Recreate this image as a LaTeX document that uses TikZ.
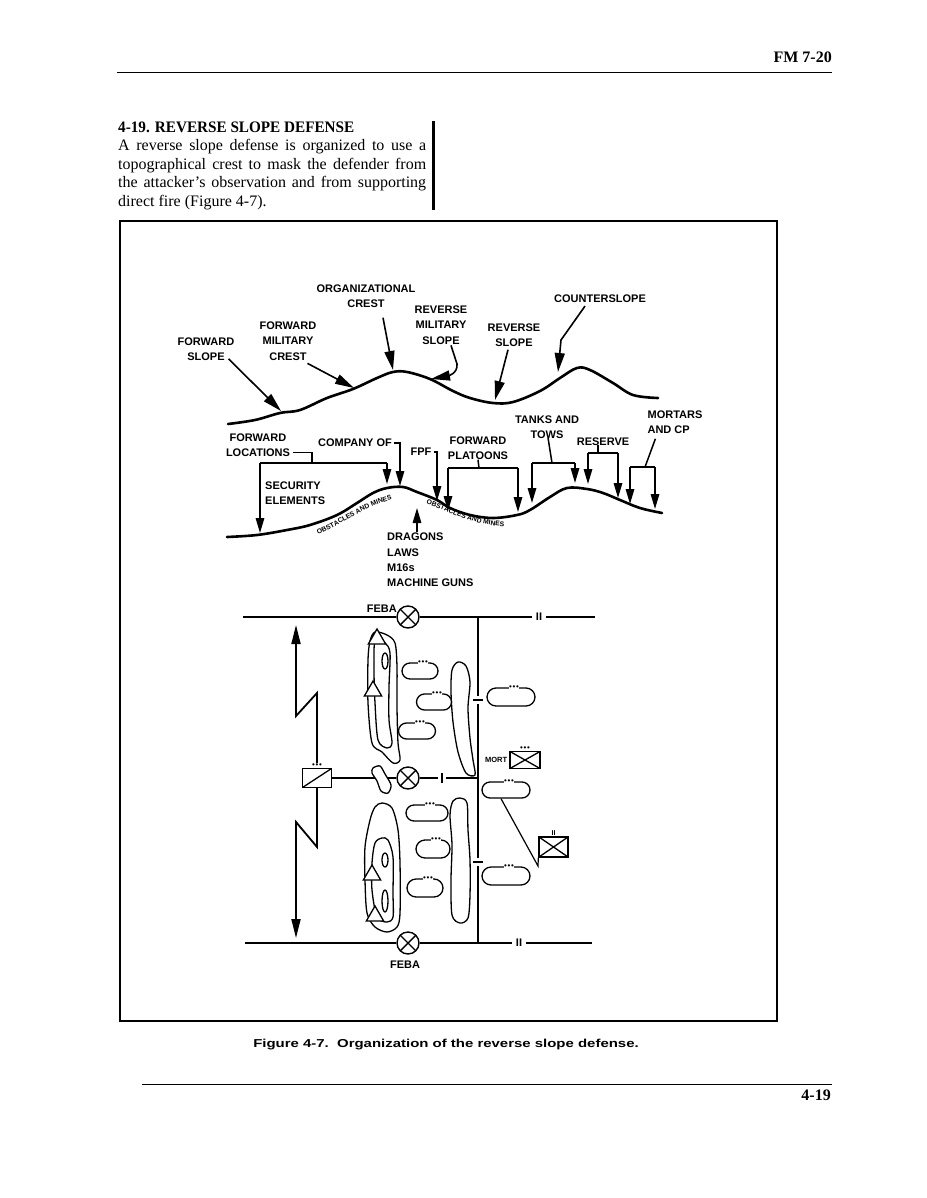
\documentclass[tikz,border=0pt]{standalone}
\usepackage{fontspec}
\setmainfont{Liberation Serif}
\setsansfont{Liberation Sans}
\newfontfamily\headfont{Liberation Serif}[FakeStretch=0.95]
\newfontfamily\capfont{Liberation Sans}[FakeStretch=1.3]
\usepackage{tikz}
\usetikzlibrary{arrows.meta,positioning,calc,shapes.misc,shapes.geometric,decorations.text}

\newcommand{\lblfont}{\fontsize{11}{15.3}\selectfont\sffamily\bfseries}
\newcommand{\obsfont}{\fontsize{6.8}{8}\selectfont\sffamily\bfseries}
\newcommand{\bodyfont}{\fontsize{16}{18.5}\selectfont}
\newcommand{\tridots}{\textbullet\kern0.6pt\textbullet\kern0.6pt\textbullet}

\tikzset{
  lbl/.style={font=\lblfont, align=center, inner sep=0pt},
  ground/.style={line width=2.6pt, line cap=round, line join=round},
  bigpointer/.style={line width=1.6pt, -{Triangle[length=19pt,width=10pt]}},
  pointer/.style={line width=1.5pt, -{Triangle[length=15pt,width=8.5pt]}},
  brace/.style={line width=1.5pt},
  plan/.style={line width=1.8pt},
  planhead/.style={plan, -{Triangle[length=19pt,width=9pt]}},
  contour/.style={line width=1.3pt, line join=round},
  feba/.style={circle, draw, line width=1.4pt, minimum size=22pt, inner sep=0pt,
    path picture={\draw[line width=1.4pt]
      (path picture bounding box.south west) -- (path picture bounding box.north east)
      (path picture bounding box.north west) -- (path picture bounding box.south east);}},
  unitbox/.style={rectangle, draw, line width=1.4pt, inner sep=0pt, minimum width=29pt, minimum height=19pt},
  crossbox/.style={unitbox, path picture={\draw[line width=1.3pt]
      (path picture bounding box.south west) -- (path picture bounding box.north east)
      (path picture bounding box.north west) -- (path picture bounding box.south east);}},
  scoutbox/.style={unitbox, path picture={\draw[line width=1.3pt]
      (path picture bounding box.south west) -- (path picture bounding box.north east);}},
  dotlbl/.style={font=\fontsize{8}{8}\selectfont\sffamily, inner sep=0.4pt},
  pltpos/.style={rounded rectangle, draw, line width=1.3pt, inner sep=0pt, fill=white,
    minimum width=#1, minimum height=16pt,
    label={[dotlbl, fill=white, anchor=center, xshift=3pt, yshift=-0.5pt]north:\tridots}},
  optri/.style={regular polygon, regular polygon sides=3, draw, fill=white, line width=1.3pt,
    minimum size=20pt, inner sep=0pt},
  hbar/.style={minimum width=10pt, minimum height=8pt, inner sep=0pt},
  vbar/.style={minimum width=8pt, minimum height=10pt, inner sep=0pt},
  bnd/.style={font=\lblfont, fill=white, inner xsep=4pt, inner ysep=0pt},
  obstext/.style={decorate, decoration={text along path, text={|\obsfont|OBSTACLES AND MINES}, text align=center}}
}

\begin{document}
\begin{tikzpicture}[x=1pt,y=-1pt]
  \useasboundingbox (0,0) rectangle (926,1198);

  % page
  \node (hdr) [anchor=base east, font=\fontsize{16}{18}\selectfont\bfseries, inner sep=0pt] at (832,63) {FM 7-20};
  \coordinate (rtl) at (117,72); \coordinate (rtr) at (832,72);
  \draw [line width=0.9pt] (rtl) -- (rtr);
  \node (ttl) [anchor=base west, font=\fontsize{16}{18}\headfont\bfseries, inner sep=0pt] at (118,133) {4-19. REVERSE SLOPE DEFENSE};
  \node (body1) [anchor=base west, font=\bodyfont, inner sep=0pt] at (118,151) {\makebox[308pt][s]{A reverse slope defense is organized to use a}};
  \node (body2) [anchor=base west, font=\bodyfont, inner sep=0pt] at (118,169.5) {\makebox[308pt][s]{topographical crest to mask the defender from}};
  \node (body3) [anchor=base west, font=\bodyfont, inner sep=0pt] at (118,188) {\makebox[308pt][s]{the attacker’s observation and from supporting}};
  \node (body4) [anchor=base west, font=\bodyfont, inner sep=0pt] at (118,206.5) {direct fire (Figure 4-7).};
  \coordinate (barT) at (433.5,121); \coordinate (barB) at (433.5,210);
  \draw [line width=2.8pt] (barT) -- (barB);
  \coordinate (frNW) at (120,221); \coordinate (frSE) at (777,1021);
  \draw [line width=1.3pt] (frNW) rectangle (frSE);
  \node (cap) [anchor=base, font={\capfont\fontsize{11.5}{14}\selectfont\bfseries}, inner sep=0pt] at (446,1047) {Figure 4-7.\ \ Organization of the reverse slope defense.};
  \coordinate (rbl) at (142,1084); \coordinate (rbr) at (832,1084);
  \draw [line width=0.9pt] (rbl) -- (rbr);
  \node (pgno) [anchor=base east, font=\fontsize{16}{18}\selectfont\bfseries, inner sep=0pt] at (831,1100) {4-19};

  % profile of the slopes
  \draw [ground] plot [smooth, tension=0.6] coordinates {(228,424) (255,420) (280,413) (300,410) (327,398) (353,389) (377,378) (393,372) (407,372) (430,379) (453,391) (470,398) (493,403) (513,402) (540,391) (560,378) (577,368) (590,370) (613,383) (633,395) (658,398)};

  \node (fslope) [lbl] at (206,349) {FORWARD\\SLOPE};
  \node (fmcrest) [lbl] at (288,341) {FORWARD\\MILITARY\\CREST};
  \node (ocrest) [lbl] at (366,296) {ORGANIZATIONAL\\CREST};
  \node (rmslope) [lbl] at (441,325) {REVERSE\\MILITARY\\SLOPE};
  \node (rslope) [lbl] at (514,335) {REVERSE\\SLOPE};
  \node (cslope) [lbl] at (600,299) {COUNTERSLOPE};

  \coordinate (fsT) at (281,411);
  \coordinate (fmT) at (354,388);
  \coordinate (ocT) at (393,370);
  \coordinate (rmK) at (457,364);
  \coordinate (rmT) at (431,379);
  \coordinate (rsT) at (495,400);
  \coordinate (csK) at (561,340);
  \coordinate (csT) at (558,372);
  \draw [bigpointer] ($(fslope.south east)+(-6,-2)$) -- (fsT);
  \draw [bigpointer] ($(fmcrest.south east)+(-9,3)$) -- (fmT);
  \draw [bigpointer] ($(ocrest.south)+(17,10)$) -- (ocT);
  \draw [bigpointer] ($(rmslope.south)+(10,1)$) -- (rmK) .. controls (458,374) and (447,376) .. (rmT);
  \draw [bigpointer] ($(rslope.south)+(-6,3)$) -- (rsT);
  \draw [bigpointer] ($(cslope.south)+(-15,3)$) -- (csK) -- (csT);

  % positions on the slopes
  \draw [ground] plot [smooth, tension=0.6] coordinates {(227,537) (257,535) (287,530) (310,525) (337,515) (357,503) (373,493) (387,488) (403,487) (417,492) (437,500) (450,508) (470,515) (493,518) (517,515) (530,510) (550,497) (567,488) (587,489) (603,493) (620,500) (640,508) (662,513)};
  \path [obstext] (302,540) .. controls (336,532) and (366,500) .. (409,497);
  \path [obstext] (410,499) .. controls (440,504) and (468,530) .. (521,526);

  \node (fwdloc) [lbl] at (258,445) {FORWARD\\LOCATIONS};
  \node (coy) [lbl] at (355,443) {COMPANY OF};
  \node (fpf) [lbl] at (421,452) {FPF};
  \node (fwdplt) [lbl] at (478,448) {FORWARD\\PLATOONS};
  \node (tanks) [lbl] at (547,427) {TANKS AND\\TOWS};
  \node (rsv) [lbl] at (603,442) {RESERVE};
  \node (mtr) [lbl, align=left] at (675,422) {MORTARS\\AND CP};
  \node (secel) [lbl, align=left, anchor=west] at (265,493) {SECURITY\\ELEMENTS};
  \node (wpns) [lbl, align=left, anchor=north west] at (387,533) {DRAGONS\\LAWS\\M16s\\MACHINE GUNS};

  \coordinate (flK) at (312,463);
  \coordinate (flA) at (260,463); \coordinate (flB) at (387,463);
  \draw [brace] ($(fwdloc.south east)+(3,-4)$) -| (flK);
  \draw [brace] (flA) -- (flB);
  \coordinate (flAt) at (260,533); \coordinate (flBt) at (387,484);
  \draw [pointer] (flA) -- (flAt);
  \draw [pointer] (flB) -- (flBt);

  \coordinate (coyT) at (400,486);
  \draw [pointer] ($(coy.east)+(2,0)$) -| (coyT);
  \coordinate (fpfT) at (437,501);
  \draw [pointer] ($(fpf.east)+(2,0)$) -| (fpfT);

  \coordinate (fpK) at (479,468);
  \coordinate (fpA) at (448,468); \coordinate (fpB) at (518,468);
  \draw [brace] (fwdplt.south) -- (fpK);
  \draw [brace] (fpA) -- (fpB);
  \coordinate (fpAt) at (448,511); \coordinate (fpBt) at (518,512);
  \draw [pointer] (fpA) -- (fpAt);
  \draw [pointer] (fpB) -- (fpBt);

  \coordinate (tkK) at (552,463);
  \coordinate (tkA) at (532,463); \coordinate (tkB) at (575,463);
  \draw [brace] ($(tanks.south)+(1,-1)$) -- (tkK);
  \draw [brace] (tkA) -- (tkB);
  \coordinate (tkAt) at (532,503); \coordinate (tkBt) at (575,483);
  \draw [pointer] (tkA) -- (tkAt);
  \draw [pointer] (tkB) -- (tkBt);

  \coordinate (rsK) at (598,453);
  \coordinate (rsA) at (588,453); \coordinate (rsB) at (618,453);
  \draw [brace] ($(rsv.south)+(-5,-1)$) -- (rsK);
  \draw [brace] (rsA) -- (rsB);
  \coordinate (rsAt) at (588,484); \coordinate (rsBt) at (618,498);
  \draw [pointer] (rsA) -- (rsAt);
  \draw [pointer] (rsB) -- (rsBt);

  \coordinate (mtK) at (645,467);
  \coordinate (mtA) at (630,467); \coordinate (mtB) at (655,467);
  \draw [brace] ($(mtr.south west)+(8,5)$) -- (mtK);
  \draw [brace] (mtA) -- (mtB);
  \coordinate (mtAt) at (630,504); \coordinate (mtBt) at (655,509);
  \draw [pointer] (mtA) -- (mtAt);
  \draw [pointer] (mtB) -- (mtBt);

  \coordinate (wpT) at (417,508);
  \draw [pointer] ($(wpns.north west)+(30,-1)$) -- (wpT);

  % plan of the defense
  \node (fa) [feba] at (408,617) {};
  \node (febaA) [lbl, anchor=east] at (397,609) {FEBA};
  \node (bdA) [bnd] at (539,617) {II};
  \coordinate (fL) at (243,617); \coordinate (fR) at (595,617);
  \draw [plan] (fL) -- (fa) -- (bdA) -- (fR);

  \node (fb) [feba] at (408,943) {};
  \node (febaB) [lbl] at (405,965) {FEBA};
  \node (bdB) [bnd] at (519,943) {II};
  \coordinate (bL) at (245,943); \coordinate (bR) at (592,943);
  \coordinate (vB) at (478,943);
  \draw [plan] (bL) -- (fb) -- (vB);
  \draw [plan] (vB) -- (bdB) -- (bR);

  \coordinate (vT) at (478,617);
  \coordinate (vM) at (478,778);
  \node (vt1) [hbar] at (478,700) {};
  \node (vt2) [hbar] at (478,862) {};
  \draw [plan] (vT) -- (vt1) -- (vt2) -- (vB);
  \draw [plan] (vt1.west) -- (vt1.east);
  \draw [plan] (vt2.west) -- (vt2.east);

  \node (scout) [scoutbox, label={[name=sdots, dotlbl]above:\tridots}] at (317,778) {};
  \node (fm) [feba] at (408,778) {};
  \node (ht1) [vbar] at (442,778) {};
  \draw [plan] (scout) -- (fm) -- (ht1) -- (vM);
  \draw [plan] (ht1.north) -- (ht1.south);

  \coordinate (zuA) at (317,693); \coordinate (zuB) at (296,716); \coordinate (zuT) at (296,625);
  \draw [planhead] (sdots.north) -- (zuA) -- (zuB) -- (zuT);
  \coordinate (zdA) at (317,847); \coordinate (zdB) at (296,822); \coordinate (zdT) at (296,938);
  \draw [planhead] (scout.south) -- (zdA) -- (zdB) -- (zdT);

  % ground and positions
  \draw [contour] plot [smooth cycle] coordinates {(375,632) (387,635) (395,643) (397,667) (397,707) (398,743) (400,760) (393,763) (382,752) (372,743) (368,703) (368,660) (370,641)};
  \draw [contour] plot [smooth cycle] coordinates {(375,641) (385,643) (390,653) (389,687) (389,720) (392,743) (387,748) (378,740) (375,703) (374,670)};
  \draw [contour] (385,661) ellipse [x radius=3, y radius=8];
  \draw [contour] plot [smooth cycle] coordinates {(382,803) (392,808) (398,830) (400,863) (400,913) (397,927) (387,932) (375,927) (367,913) (365,880) (365,847) (370,820) (375,807)};
  \draw [contour] plot [smooth cycle] coordinates {(382,838) (388,840) (393,857) (393,893) (393,917) (387,922) (377,917) (372,890) (372,863) (375,843)};
  \draw [contour] (385,860) ellipse [x radius=3, y radius=7];
  \draw [contour] (385,901) ellipse [x radius=3, y radius=11];
  \draw [contour] plot [smooth cycle] coordinates {(458,662) (466,666) (470,682) (468,708) (470,738) (473,760) (475,775) (466,773) (458,752) (453,722) (451,692) (452,670)};
  \draw [contour] plot [smooth cycle] coordinates {(460,798) (467,803) (468,830) (470,860) (470,895) (468,918) (460,923) (452,915) (451,880) (452,845) (450,815) (453,801)};
  \draw [contour, fill=white] plot [smooth cycle] coordinates {(373,768) (380,766) (385,774) (391,785) (388,793) (381,791) (377,781) (372,773)};

  \node (t1) [optri] at (377,639) {};
  \node (t2) [optri] at (373,691) {};
  \node (t3) [optri] at (372,875) {};
  \node (t4) [optri] at (375,916) {};

  \node (p1) [pltpos=36pt] at (420,671) {};
  \node (p2) [pltpos=35pt] at (434,702) {};
  \node (p3) [pltpos=37pt] at (417,731) {};
  \node (p4) [pltpos=48pt, minimum height=18pt] at (511,697) {};
  \node (p5) [pltpos=48pt] at (506,790) {};
  \node (p6) [pltpos=42pt] at (427,813) {};
  \node (p7) [pltpos=34pt, minimum height=18pt] at (433,849) {};
  \node (p8) [pltpos=36pt, minimum height=18pt] at (425,888) {};
  \node (p9) [pltpos=48pt, minimum height=18pt] at (506,876) {};

  \node (mort) [crossbox, minimum width=30pt, minimum height=17pt, label={[dotlbl]above:\tridots}] at (525,760) {};
  \node (mortl) [font=\fontsize{7.5}{8}\selectfont\sffamily\bfseries, inner sep=0pt, left=2pt of mort] {MORT};
  \node (bn) [crossbox, minimum height=20pt, label={[font=\fontsize{7}{7}\selectfont\sffamily\bfseries, inner sep=1pt]above:II}] at (553.5,847) {};
  \coordinate (bnK) at (538,866);
  \draw [line width=1.2pt] ($(p5.south)+(-5,0)$) -- (bnK) -- (bn.south west);
\end{tikzpicture}
\end{document}
